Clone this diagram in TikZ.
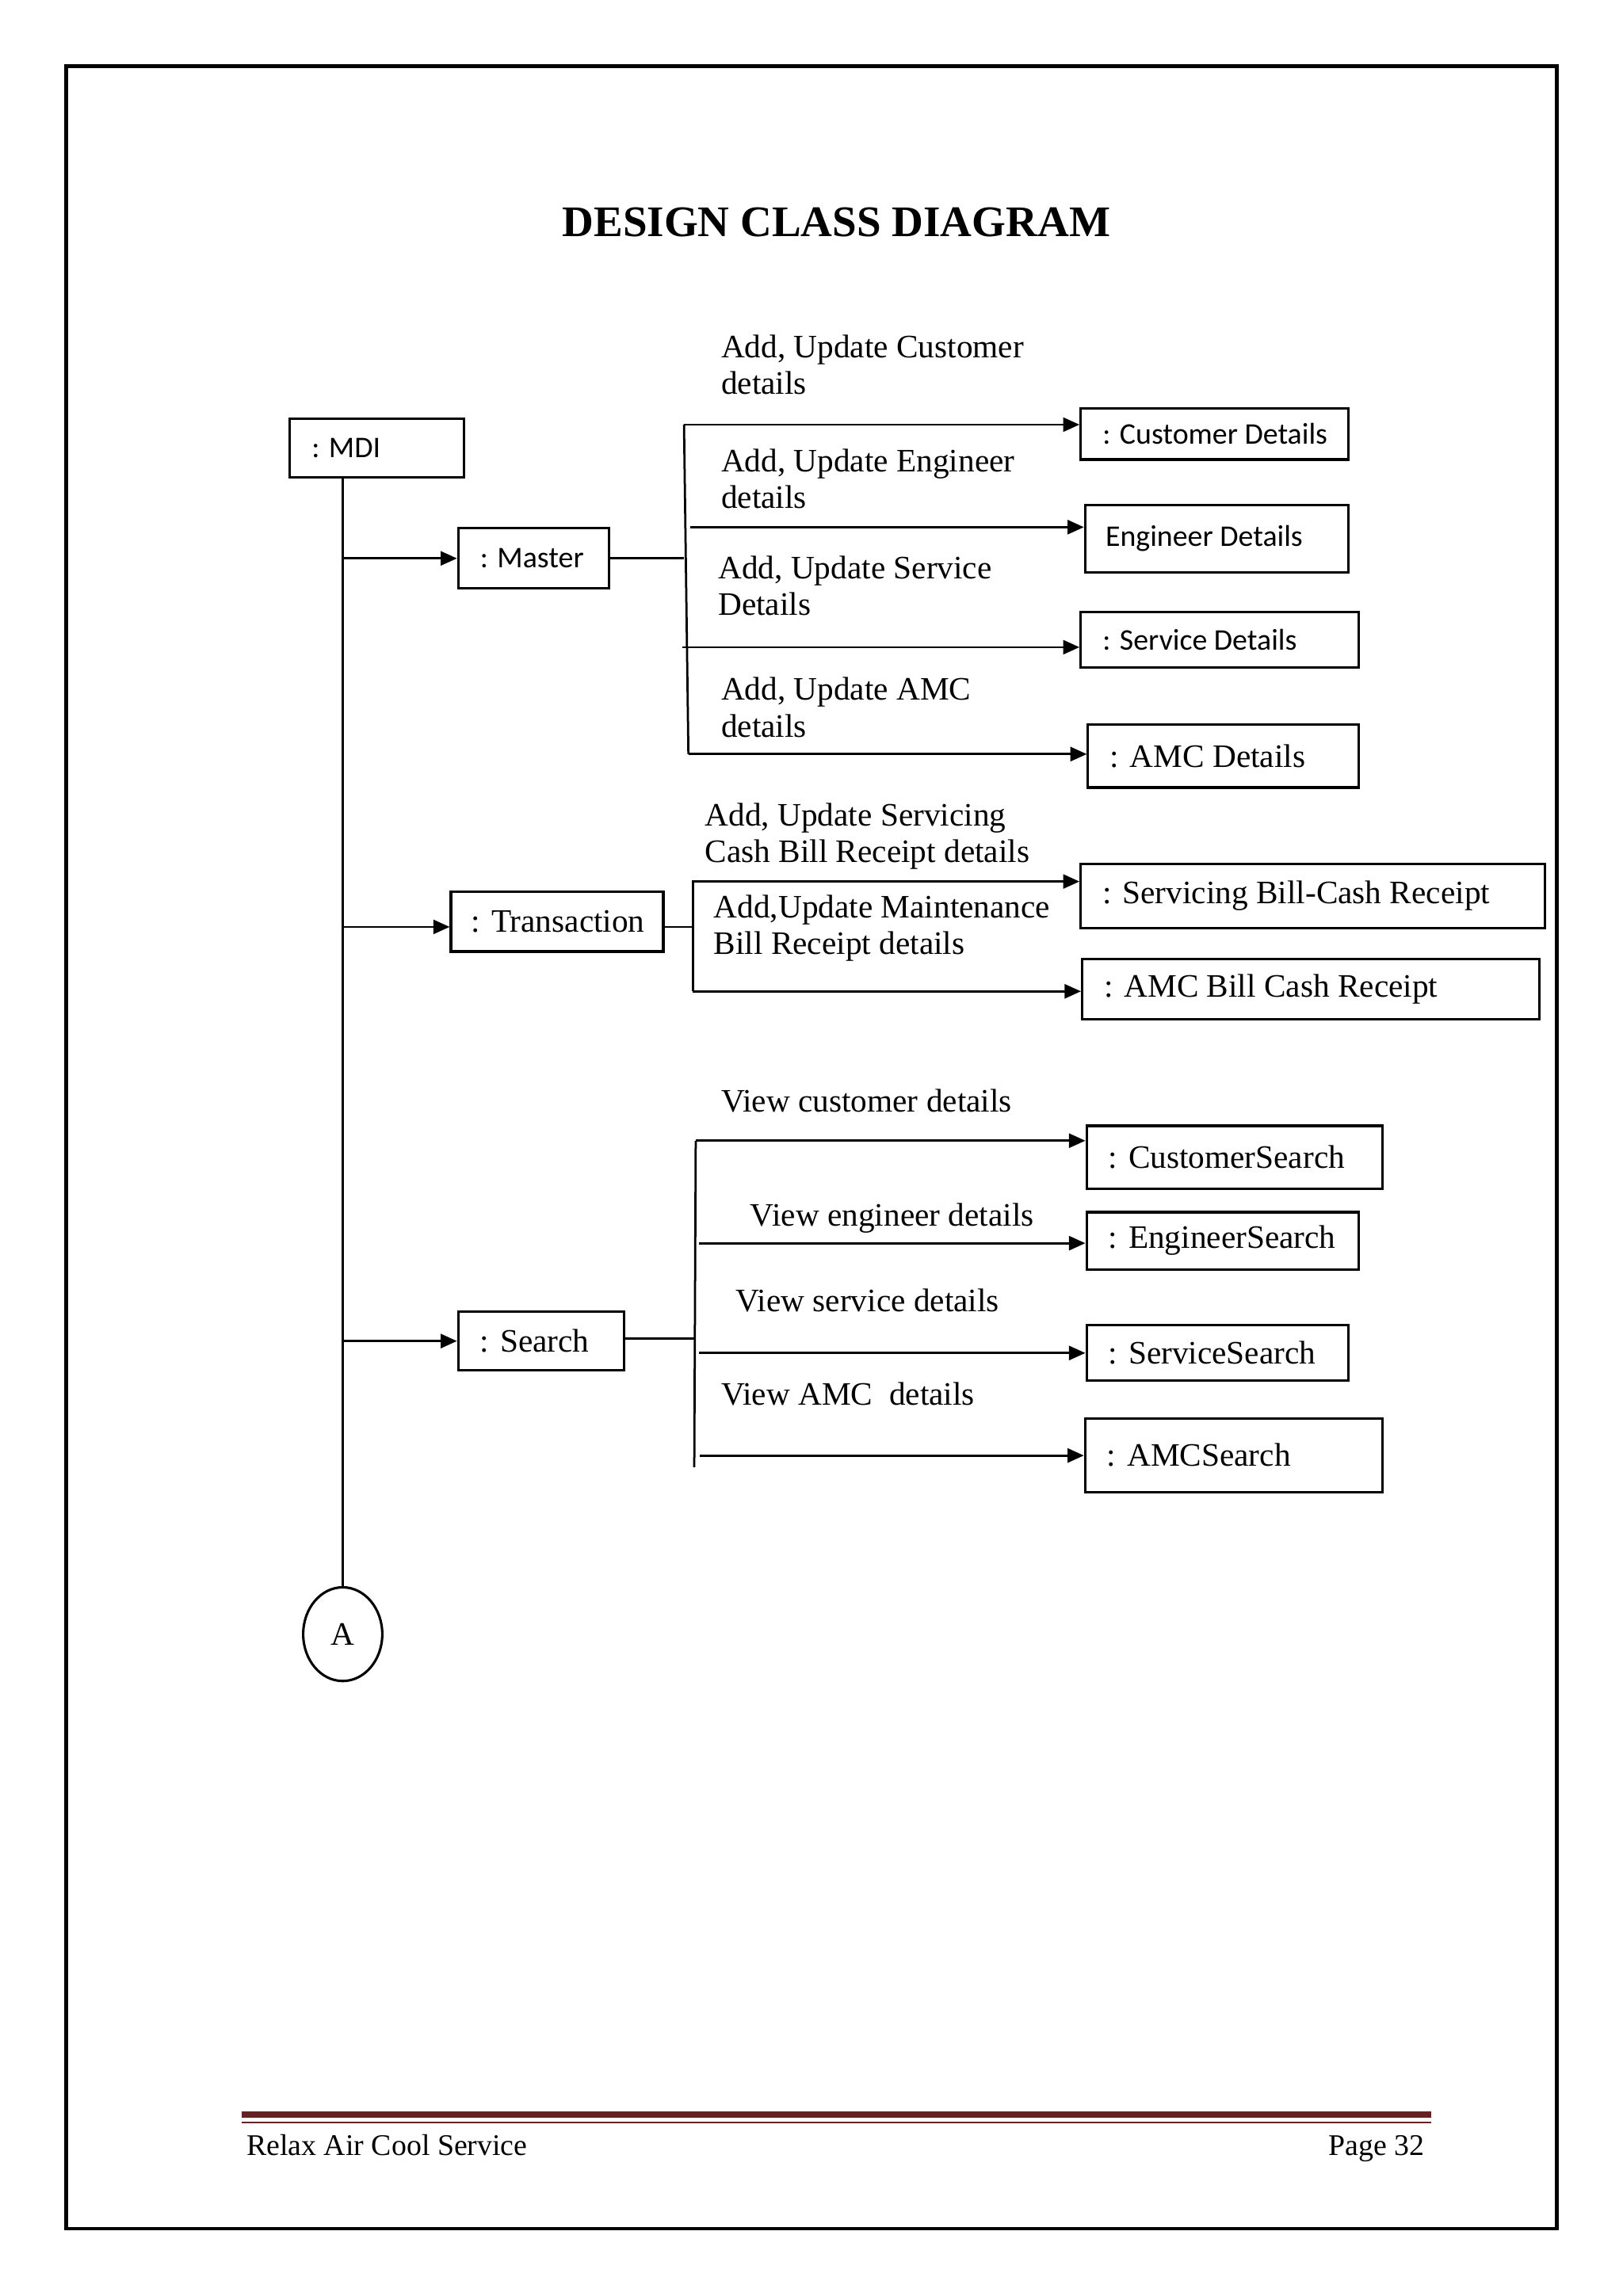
\documentclass[tikz,border=0pt]{standalone}
\usepackage{fontspec}
\setmainfont{Liberation Serif}
\newfontfamily\calfont{Carlito}
\usetikzlibrary{arrows.meta,shapes.geometric}
\definecolor{footred}{HTML}{622423}
\newcommand\tfont{\fontsize{12}{13.5}\selectfont}
\newcommand\cfont{\calfont\fontsize{11}{13}\selectfont}
\newdimen\padlen
\begin{document}
\begin{tikzpicture}[x=0.537pt,y=-0.537pt,
  bx/.style n args={3}{draw, line width=0.9pt, anchor=north west, inner xsep=0pt, inner ysep=0pt,
     text width=#1*0.537pt, minimum height=#2*0.537pt, align=flush left,
     execute at begin node={\pgfmathsetlength{\padlen}{#3*0.537pt}\hspace*{\padlen}}},
  lbl/.style={anchor=west, inner sep=0pt, align=left, font=\tfont},
  ln/.style={line width=0.8pt},
  arr/.style={line width=0.8pt, -{Triangle[length=6pt,width=5.2pt]}}]
\useasboundingbox (0,0) rectangle (1108,1568);
\fill[white] (0,0) rectangle (1108,1568);
% page border
\draw[line width=1.4pt] (45,45) rectangle (1063,1522);
% title
\node[font=\bfseries\fontsize{16}{19}\selectfont, inner sep=0pt] (title) at (571,152) {DESIGN CLASS DIAGRAM};

% boxes
\node[bx={119}{40}{15}, font=\cfont] (mdi) at (197,285) {: MDI};
\node[bx={103}{41}{15}, font=\cfont] (master) at (312,360) {: Master};
\node[bx={145}{41}{14}, font=\tfont] (trans) at (307,608) {: Transaction};
\node[bx={113}{40}{15}, font=\tfont] (search) at (312,895) {: Search};

\node[bx={183}{35}{15}, font=\cfont] (cust) at (737,278) {: Customer Details};
\node[bx={180}{46}{14}, font=\cfont] (eng) at (740,344) {Engineer Details};
\node[bx={190}{38}{15}, font=\cfont] (serv) at (737,417) {: Service Details};
\node[bx={185}{43}{15}, font=\tfont] (amc) at (742,494) {: AMC Details};

\node[bx={317}{44}{15}, font=\tfont] (sbc) at (737,589) {: Servicing Bill-Cash Receipt};
\node[bx={312}{41}{15}, font=\tfont] (amcb) at (738,654) {: AMC Bill Cash Receipt};

\node[bx={202}{43}{15}, font=\tfont] (cs) at (741,768) {: CustomerSearch};
\node[bx={186}{39}{15}, font=\tfont] (es) at (741,827) {: EngineerSearch};
\node[bx={179}{38}{15}, font=\tfont] (ss) at (741,904) {: ServiceSearch};
\node[bx={203}{50}{15}, font=\tfont] (as) at (740,968) {: AMCSearch};

\node[draw, ellipse, line width=0.9pt, minimum width=54*0.537pt, minimum height=64*0.537pt,
      inner sep=0pt, font=\tfont] (A) at (234,1116) {A};

% labels
\node[lbl] (l1) at (492,249) {Add, Update Customer\\details};
\node[lbl] (l2) at (492,327) {Add, Update Engineer\\details};
\node[lbl] (l3) at (490,400) {Add, Update Service\\Details};
\node[lbl] (l4) at (492,483) {Add, Update AMC\\details};
\node[lbl] (l5) at (481,571) {Add, Update Servicing\\Cash Bill Receipt details};
\node[lbl] (l6) at (487,634) {Add,Update Maintenance\\Bill Receipt details};
\node[lbl] (l7) at (492,752) {View customer details};
\node[lbl] (l8) at (512,832) {View engineer details};
\node[lbl] (l9) at (502,888) {View service details};
\node[lbl] (l10) at (492,952) {View AMC\ \ details};

% lifeline
\coordinate (tj) at (473,633);
\draw[ln] (mdi.south -| A.north) -- (A.north);
\draw[arr] (A.north |- master.west) -- (master.west);
\draw[arr] (A.north |- tj) -- (trans.west |- tj);
\draw[arr] (A.north |- search.west) -- (search.west);

% master branch
\coordinate (mT) at (467,290);
\coordinate (mB) at (470,515);
\coordinate (m2) at (471,360);
\coordinate (m3) at (466,442);
\draw[ln] (master.east) -- (master.east -| mT);
\draw[ln] (mT) -- (mB);
\draw[arr] (mT) -- (cust.west |- mT);
\draw[arr] (m2) -- (eng.west |- m2);
\draw[arr] (m3) -- (serv.west |- m3);
\draw[arr] (mB) -- (amc.west |- mB);

% transaction branch
\coordinate (tT) at (473,602);
\coordinate (tB) at (473,677);
\draw[ln] (trans.east |- tj) -- (tj);
\draw[arr] (tB) -- (tT) -- (sbc.west |- tT);
\draw[arr] (tB) -- (amcb.west |- tB);

% search branch
\coordinate (sT) at (475,779);
\coordinate (sB) at (474,1002);
\coordinate (sj) at (475,914);
\coordinate (s2) at (477,849);
\coordinate (s3) at (477,924);
\coordinate (s4) at (478,994);
\draw[ln] (search.east |- sj) -- (sj);
\draw[ln] (sT) -- (sB);
\draw[arr] (sT) -- (cs.west |- sT);
\draw[arr] (s2) -- (es.west |- s2);
\draw[arr] (s3) -- (ss.west |- s3);
\draw[arr] (s4) -- (as.west |- s4);

% footer
\draw[line width=2.2pt, footred] (165,1444) -- (977,1444);
\draw[line width=0.6pt, footred] (165,1449.5) -- (977,1449.5);
\node[anchor=base west, inner sep=0pt, font=\fontsize{11}{13}\selectfont] (foot) at (168,1472) {Relax Air Cool Service};
\node[anchor=base east, inner sep=0pt, font=\fontsize{11}{13}\selectfont] (page) at (973,1472) {Page 32};
\end{tikzpicture}
\end{document}
